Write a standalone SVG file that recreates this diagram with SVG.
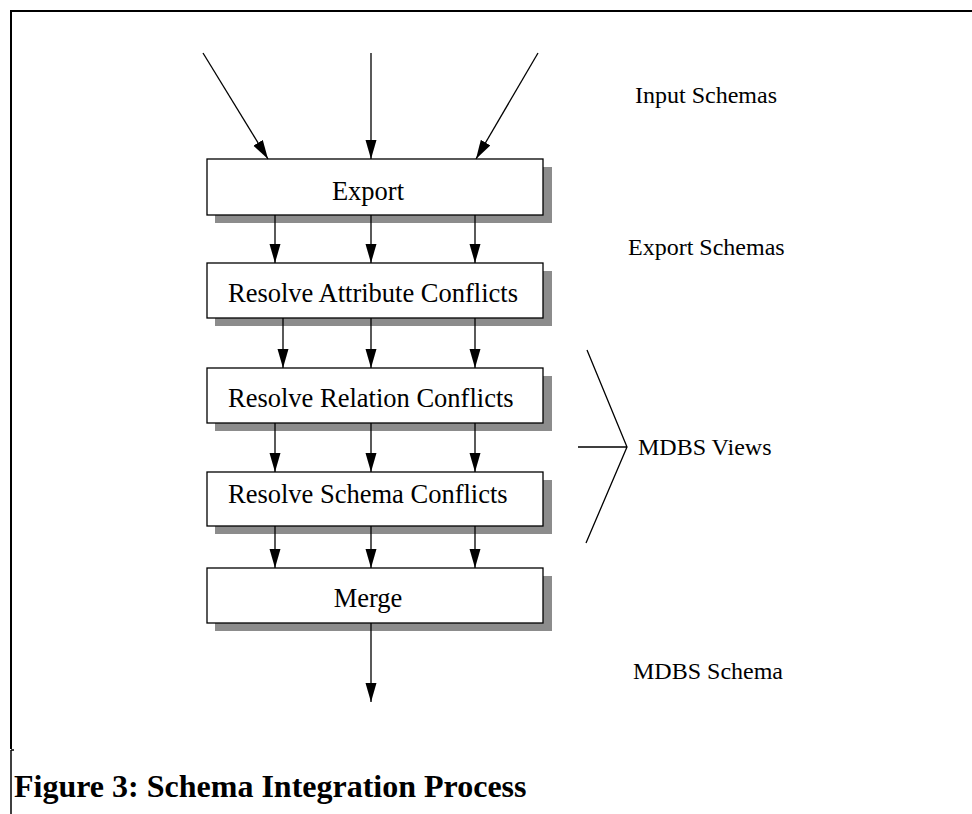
<svg xmlns="http://www.w3.org/2000/svg" width="972" height="814" viewBox="0 0 972 814">
  <style>
    .frame { stroke: #000; stroke-width: 2; fill: none; }
    .box { fill: #fff; stroke: #000; stroke-width: 1.3; }
    .shadow { fill: #8c8c8c; stroke: none; }
    .btxt { font-family: "Liberation Serif", "Times New Roman", serif; font-size: 26.5px; fill: #000; }
    .lbl { font-family: "Liberation Serif", "Times New Roman", serif; font-size: 24px; fill: #000; }
    .cap { font-family: "Liberation Serif", "Times New Roman", serif; font-size: 32px; font-weight: bold; fill: #000; }
    .conn line { stroke: #000; stroke-width: 1.3; }
    .brace { stroke: #000; stroke-width: 1.3; fill: none; }
  </style>
  <defs>
    <marker id="ah" markerUnits="userSpaceOnUse" markerWidth="20" markerHeight="12" refX="19" refY="5.5" orient="auto">
      <path d="M0,0 L19,5.5 L0,11 z" fill="#000"/>
    </marker>
  </defs>
  <rect width="972" height="814" fill="#fff"/>

  <g id="frame">
    <path class="frame" d="M11,749 L11,11 L972,11"/>
    <path d="M11,750 L11,814 M11,750 L14,750" stroke="#000" stroke-width="1.5" fill="none"/>
  </g>

  <g id="node-export">
    <rect class="shadow" x="215" y="167" width="337" height="56"/>
    <rect class="box" x="207" y="159" width="336" height="56"/>
    <text class="btxt" x="368" y="200" text-anchor="middle">Export</text>
  </g>
  <g id="node-attr">
    <rect class="shadow" x="215" y="271" width="337" height="55"/>
    <rect class="box" x="207" y="263" width="336" height="55"/>
    <text class="btxt" x="228" y="302">Resolve Attribute Conflicts</text>
  </g>
  <g id="node-relation">
    <rect class="shadow" x="215" y="376" width="337" height="55"/>
    <rect class="box" x="207" y="368" width="336" height="55"/>
    <text class="btxt" x="228" y="407">Resolve Relation Conflicts</text>
  </g>
  <g id="node-schema">
    <rect class="shadow" x="215" y="480" width="337" height="54"/>
    <rect class="box" x="207" y="472" width="336" height="54"/>
    <text class="btxt" x="228" y="503">Resolve Schema Conflicts</text>
  </g>
  <g id="node-merge">
    <rect class="shadow" x="215" y="576" width="337" height="55"/>
    <rect class="box" x="207" y="568" width="336" height="55"/>
    <text class="btxt" x="368" y="607" text-anchor="middle">Merge</text>
  </g>

  <g id="connectors" class="conn">
    <line x1="203" y1="53" x2="268" y2="159" marker-end="url(#ah)"/>
    <line x1="371" y1="53" x2="371" y2="159" marker-end="url(#ah)"/>
    <line x1="538" y1="53" x2="476" y2="159" marker-end="url(#ah)"/>

    <line x1="275" y1="215" x2="275" y2="263" marker-end="url(#ah)"/>
    <line x1="371" y1="215" x2="371" y2="263" marker-end="url(#ah)"/>
    <line x1="475" y1="215" x2="475" y2="263" marker-end="url(#ah)"/>

    <line x1="283" y1="318" x2="283" y2="368" marker-end="url(#ah)"/>
    <line x1="371" y1="318" x2="371" y2="368" marker-end="url(#ah)"/>
    <line x1="475" y1="318" x2="475" y2="368" marker-end="url(#ah)"/>

    <line x1="275" y1="423" x2="275" y2="472" marker-end="url(#ah)"/>
    <line x1="371" y1="423" x2="371" y2="472" marker-end="url(#ah)"/>
    <line x1="475" y1="423" x2="475" y2="472" marker-end="url(#ah)"/>

    <line x1="275" y1="526" x2="275" y2="568" marker-end="url(#ah)"/>
    <line x1="371" y1="526" x2="371" y2="568" marker-end="url(#ah)"/>
    <line x1="475" y1="526" x2="475" y2="568" marker-end="url(#ah)"/>

    <line x1="371" y1="623" x2="371" y2="702" marker-end="url(#ah)"/>
  </g>

  <g id="brace-views">
    <path class="brace" d="M587,350 L627,447 L586,543 M578,447 L627,447"/>
  </g>

  <g id="labels">
    <text class="lbl" x="635" y="103">Input Schemas</text>
    <text class="lbl" x="628" y="255">Export Schemas</text>
    <text class="lbl" x="638" y="455">MDBS Views</text>
    <text class="lbl" x="633" y="679">MDBS Schema</text>
  </g>

  <text class="cap" x="14" y="797">Figure 3: Schema Integration Process</text>
</svg>
